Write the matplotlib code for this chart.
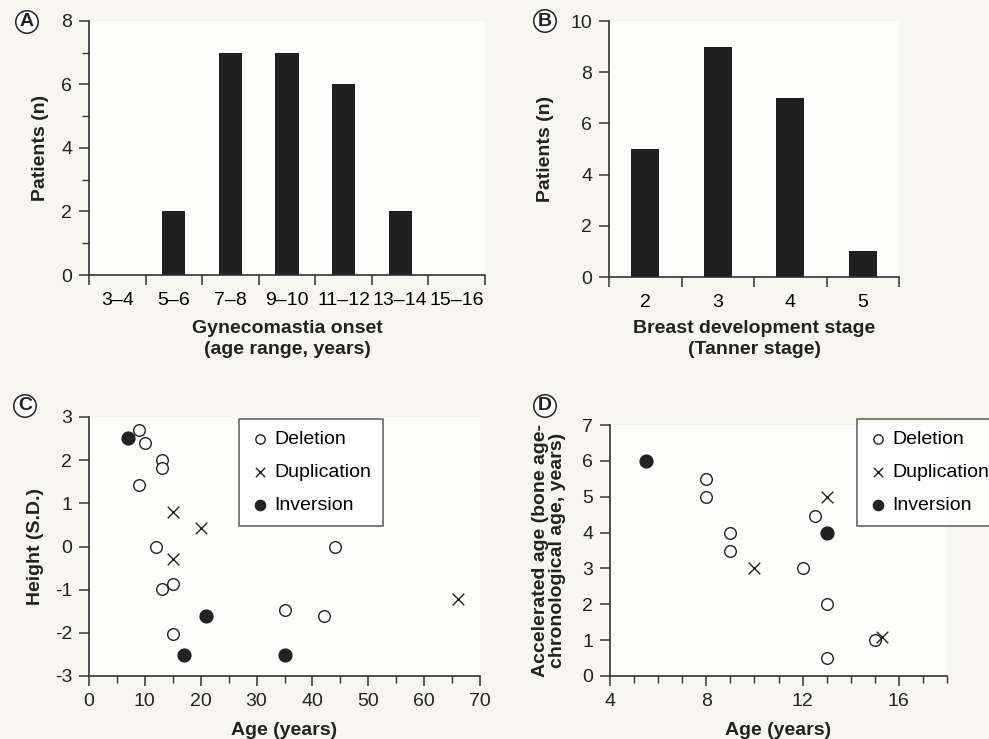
import matplotlib
matplotlib.use('Agg')
import matplotlib.pyplot as plt
from matplotlib.ticker import MultipleLocator, FixedLocator

plt.rcParams['font.family'] = ['Liberation Sans', 'DejaVu Sans']
plt.rcParams['axes.unicode_minus'] = False

# Panel A: gynecomastia onset
onset_ranges = ['3–4', '5–6', '7–8', '9–10', '11–12', '13–14', '15–16']
onset_counts = [0, 2, 7, 7, 6, 2, 0]

# Panel B: Tanner stage
tanner_stages = ['2', '3', '4', '5']
tanner_counts = [5, 9, 7, 1]

# Panel C: height (S.D.) vs age
c_del_age = [9, 10, 13, 13, 9, 12, 13, 15, 15, 35, 42, 44]
c_del_sd = [2.7, 2.4, 2.0, 1.83, 1.43, 0.0, -0.98, -0.86, -2.02, -1.48, -1.61, 0.0]
c_dup_age = [15, 20, 15, 66]
c_dup_sd = [0.8, 0.44, -0.3, -1.21]
c_inv_age = [7, 21, 17, 35]
c_inv_sd = [2.52, -1.61, -2.52, -2.52]

# Panel D: accelerated bone age vs age
d_del_age = [8, 8, 9, 9, 12, 12.5, 13, 13, 15]
d_del_acc = [5.5, 5.0, 4.0, 3.5, 3.0, 4.45, 2.0, 0.5, 1.0]
d_dup_age = [10, 13, 15.3]
d_dup_acc = [3.0, 5.0, 1.1]
d_inv_age = [5.5, 13]
d_inv_acc = [6.0, 4.0]

W, H = 989, 739
fig = plt.figure(figsize=(W / 100, H / 100), dpi=100, facecolor='#f7f6f0')


def box(l, r, t, b):
    return [l / W, 1 - b / H, (r - l) / W, (b - t) / H]


ink = '#222222'
tfs = 14   # tick labels
lfs = 14   # axis labels / legend


def style(ax):
    ax.set_facecolor('#fdfdfb')
    for s in ['top', 'right']:
        ax.spines[s].set_visible(False)
    for s in ['left', 'bottom']:
        ax.spines[s].set_color('#333333')
        ax.spines[s].set_linewidth(1.2)
    ax.tick_params(which='major', direction='out', length=7, width=1.1,
                   color='#333333', labelsize=tfs, labelcolor=ink, pad=5)
    ax.tick_params(which='minor', direction='out', length=5, width=1.0,
                   color='#333333')


def bar_panel(ax, cats, vals, width, ymax, ystep, minor):
    pos = list(range(len(cats)))
    ax.bar(pos, vals, width=width, color='#1f1f1f')
    ax.set_xlim(-0.5, len(cats) - 0.5)
    ax.set_ylim(0, ymax)
    ax.yaxis.set_major_locator(MultipleLocator(ystep))
    if minor:
        ax.yaxis.set_minor_locator(MultipleLocator(minor))
    ax.xaxis.set_major_locator(FixedLocator([p - 0.5 for p in pos] + [len(cats) - 0.5]))
    ax.xaxis.set_major_formatter(plt.NullFormatter())
    ax.set_xticks(pos, cats, minor=True)
    ax.tick_params(axis='x', which='minor', length=0, labelsize=tfs, pad=12)
    ax.set_ylabel('Patients (n)', fontsize=lfs, fontweight='bold', color=ink)


def legend(ax, x, y):
    leg = ax.legend(loc='upper left', bbox_to_anchor=(x / W, 1 - y / H),
                    bbox_transform=fig.transFigure, fontsize=lfs, frameon=True,
                    fancybox=False, edgecolor='#333333', handletextpad=0.2,
                    handlelength=1.0, borderpad=0.6, labelspacing=0.78,
                    borderaxespad=0, markerscale=0.8)
    leg.get_frame().set_linewidth(1.1)
    leg.get_frame().set_facecolor('white')
    return leg


# A
axA = fig.add_axes(box(89, 485, 21, 275))
style(axA)
bar_panel(axA, onset_ranges, onset_counts, 0.41, 8, 2, 1)
axA.set_xlabel('Gynecomastia onset\n(age range, years)', fontsize=lfs,
               fontweight='bold', color=ink, linespacing=1.3, labelpad=8)
axA.yaxis.set_label_coords(-0.1, 0.5)

# B
axB = fig.add_axes(box(609, 899, 21, 277))
style(axB)
bar_panel(axB, tanner_stages, tanner_counts, 0.39, 10, 2, None)
axB.set_xlabel('Breast development stage\n(Tanner stage)', fontsize=lfs,
               fontweight='bold', color=ink, linespacing=1.25, labelpad=7)
axB.yaxis.set_label_coords(-0.19, 0.5)

# C
axC = fig.add_axes(box(89, 480, 417, 676))
style(axC)
mk = dict(s=70, linewidths=1.0)
axC.scatter(c_del_age, c_del_sd, marker='o', facecolors='white',
            edgecolors=ink, label='Deletion', **mk)
axC.scatter(c_dup_age, c_dup_sd, marker='x', color=ink, label='Duplication', **mk)
axC.scatter(c_inv_age, c_inv_sd, marker='o', color=ink, label='Inversion', s=85)
axC.set_xlim(0, 70)
axC.set_ylim(-3, 3)
axC.xaxis.set_major_locator(MultipleLocator(10))
axC.xaxis.set_minor_locator(MultipleLocator(5))
axC.yaxis.set_major_locator(MultipleLocator(1))
axC.set_xlabel('Age (years)', fontsize=lfs, fontweight='bold', color=ink, labelpad=9)
axC.set_ylabel('Height (S.D.)', fontsize=lfs, fontweight='bold', color=ink)
axC.yaxis.set_label_coords(-0.115, 0.5)
for coll in axC.collections:
    coll.set_clip_on(False)
legend(axC, 239, 419)

# D
axD = fig.add_axes(box(610, 947, 425, 676))
style(axD)
axD.scatter(d_del_age, d_del_acc, marker='o', facecolors='white',
            edgecolors=ink, label='Deletion', **mk)
axD.scatter(d_dup_age, d_dup_acc, marker='x', color=ink, label='Duplication', **mk)
axD.scatter(d_inv_age, d_inv_acc, marker='o', color=ink, label='Inversion', s=85)
axD.set_xlim(4, 18)
axD.set_ylim(0, 7)
axD.xaxis.set_major_locator(MultipleLocator(4))
axD.xaxis.set_minor_locator(MultipleLocator(1))
axD.yaxis.set_major_locator(MultipleLocator(1))
axD.set_xlabel('Age (years)', fontsize=lfs, fontweight='bold', color=ink, labelpad=9)
axD.set_ylabel('Accelerated age (bone age-\nchronological age, years)',
               fontsize=lfs, fontweight='bold', color=ink, linespacing=1.05)
axD.yaxis.set_label_coords(-0.13, 0.5)
legend(axD, 857, 419)

# circled panel letters
for letter, x, y in [('A', 27, 22), ('B', 545, 21), ('C', 25, 406), ('D', 545, 406)]:
    fig.text(x / W, 1 - y / H, letter, ha='center', va='center', fontsize=14,
             fontweight='bold', color=ink,
             bbox=dict(boxstyle='circle,pad=0.14', fc='white', ec=ink, lw=1.1))

fig.savefig('out.png', dpi=100, facecolor=fig.get_facecolor())
